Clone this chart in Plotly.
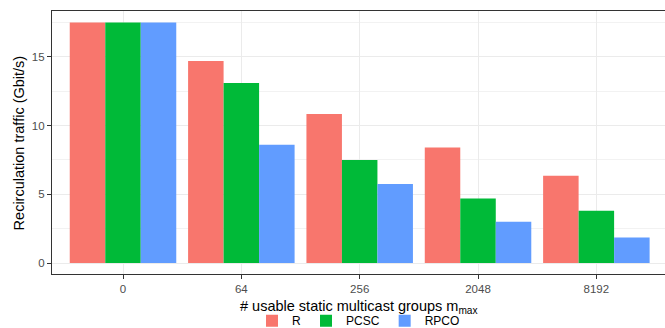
import plotly.graph_objects as go

categories = ["0", "64", "256", "2048", "8192"]
series_names = ["R", "PCSC", "RPCO"]
r_values = [17.5, 14.7, 10.85, 8.4, 6.35]
pcsc_values = [17.5, 13.1, 7.5, 4.7, 3.8]
rpco_values = [17.5, 8.6, 5.75, 3.0, 1.85]
colors = ["#F8766D", "#00BA38", "#619CFF"]
y_ticks = [0, 5, 10, 15]
x_title = "# usable static multicast groups m<sub>max</sub>"
y_title = "Recirculation traffic (Gbit/s)"

fig = go.Figure()
for name, vals, col in zip(series_names, [r_values, pcsc_values, rpco_values], colors):
    fig.add_trace(go.Bar(x=categories, y=vals, name=name, marker=dict(color=col, line=dict(width=0))))

font_family = "Liberation Sans, Arial, sans-serif"
fig.update_layout(
    width=665, height=328,
    barmode="group", bargap=0.1, bargroupgap=0,
    plot_bgcolor="white", paper_bgcolor="white",
    margin=dict(l=52, r=0, t=11, b=54, autoexpand=False),
    font=dict(family=font_family, size=11.5, color="#4D4D4D"),
    legend=dict(orientation="h", xref="paper", x=0.5, xanchor="center",
                yref="container", y=0.022, yanchor="middle",
                font=dict(size=12, color="black"), itemwidth=30, traceorder="normal"),
    annotations=[
        dict(text=x_title, xref="paper", yref="paper", x=0.5, y=-0.127,
             xanchor="center", yanchor="middle", showarrow=False,
             font=dict(size=14.5, color="black", family=font_family)),
        dict(text=y_title, xref="paper", yref="paper", x=-0.054, y=0.5,
             xanchor="center", yanchor="middle", showarrow=False, textangle=-90,
             font=dict(size=14.5, color="black", family=font_family)),
    ],
)
fig.update_xaxes(
    type="category", range=[-0.6, 4.58], automargin=False,
    showline=True, linecolor="#333333", linewidth=1.3, mirror=True,
    ticks="outside", ticklen=4, tickcolor="#333333", tickwidth=1,
    showgrid=True, gridcolor="#EBEBEB", gridwidth=1,
    tickfont=dict(size=11.5, color="#4D4D4D"),
)
fig.update_yaxes(
    range=[-0.8, 18.34], automargin=False,
    tickvals=y_ticks,
    showline=True, linecolor="#333333", linewidth=1.3, mirror=False,
    ticks="outside", ticklen=4, tickcolor="#333333", tickwidth=1,
    showgrid=True, gridcolor="#EBEBEB", gridwidth=1, zeroline=False,
    minor=dict(tick0=0, dtick=2.5, showgrid=True, gridcolor="#F2F2F2", gridwidth=0.6, ticks=""),
    tickfont=dict(size=11.5, color="#4D4D4D"),
)

fig.write_html("out.html", config={"displayModeBar": False},
               post_script="document.body.style.margin='0';document.body.style.overflow='hidden';")
